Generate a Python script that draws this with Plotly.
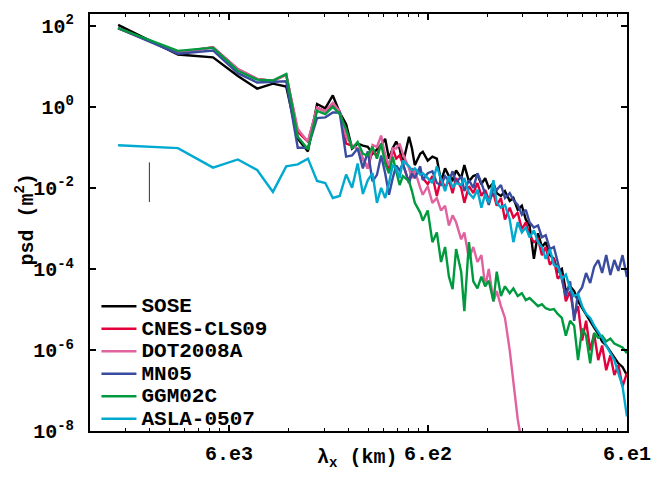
import math
import plotly.graph_objects as go

# ---------------- data ----------------
# harmonic index n of the along-track spectrum; wavelength = L1 / n
L1_KM = 22700.0
harm_low = list(range(1, 25))
harm_high = [25, 26, 27, 29, 30, 31, 33, 34, 36, 38, 40, 42, 44, 46, 48, 50, 53, 55, 58, 61,
             64, 67, 70, 73, 77, 80, 84, 88, 93, 97, 102, 107, 112, 117, 123, 129, 135, 141, 148, 155,
             162, 170, 178, 187, 196, 205, 215, 225, 236, 247, 259, 271, 284, 298, 312, 327, 343, 361]
harmonic = harm_low + harm_high

# log10(psd [m^2]) per series
sose_log = [2.02, 1.29, 1.22, 0.76, 0.45, 0.57, 0.50, -0.79, -1.10, 0.07, -0.04, 0.28, -0.14, -0.43,
            -1.03, -0.91, -0.96, -0.99, -1.16, -1.06, -0.95, -0.79, -1.28, -1.02,
            -0.86, -1.03, -1.40, -0.74, -1.03, -1.44, -1.16, -1.11, -1.33, -1.23,
            -1.28, -1.84, -1.52, -1.71, -1.81, -1.57, -1.76, -1.44, -1.84, -1.71,
            -1.67, -1.91, -1.76, -2.00, -1.88, -2.13, -2.20, -2.08, -2.32, -2.25,
            -2.54, -2.44, -2.78, -2.93, -3.75, -3.12, -3.46, -3.34, -3.66, -3.75,
            -4.07, -4.00, -4.55, -4.43, -4.55, -4.80, -4.97, -5.11, -5.31, -5.45,
            -5.60, -5.79, -5.89, -6.03, -6.18, -6.33, -6.42, -6.62]
cnes_log = [1.94, 1.34, 1.47, 0.93, 0.69, 0.64, 0.79, -0.62, -0.86, -0.02, -0.11, 0.06, -0.11, -0.91,
            -0.96, -1.03, -1.28, -1.52, -1.08, -1.20, -0.91, -1.20, -1.59, -1.03,
            -1.28, -1.20, -1.40, -1.88, -1.52, -1.64, -1.59, -1.76, -1.91, -1.71,
            -2.20, -1.76, -2.00, -1.81, -2.13, -1.76, -2.00, -2.37, -1.96, -2.13,
            -1.88, -2.20, -2.05, -2.30, -2.13, -2.44, -2.25, -2.78, -2.49, -2.73,
            -2.61, -3.02, -2.85, -3.17, -3.34, -3.27, -3.66, -3.46, -3.90, -3.75,
            -4.24, -4.14, -4.80, -4.55, -5.16, -4.92, -5.77, -5.28, -6.01, -5.60,
            -6.25, -5.89, -6.50, -6.13, -6.62, -6.37, -6.90, -6.57]
dot_log = [1.94, 1.34, 1.47, 0.93, 0.69, 0.64, 0.79, -0.55, -0.86, -0.02, -0.11, 0.10, -0.11, -0.74,
           -0.95, -1.03, -1.28, -1.52, -0.94, -0.99, -0.71, -1.20, -1.45, -1.03,
           -1.03, -0.91, -1.16, -1.52, -1.76, -1.57, -2.00, -2.17, -1.96, -2.37,
           -2.25, -2.56, -2.44, -2.93, -2.68, -2.85, -3.27, -3.10, -3.75, -3.46,
           -3.83, -3.66, -4.43, -4.00, -4.80, -4.55, -4.92, -5.21, -6.01, -6.86,
           -7.71, -8.30]
mn05_log = [1.94, 1.31, 1.39, 0.83, 0.60, 0.62, 0.63, -1.01, -1.01, -0.28, -0.26, -0.14, -0.14, -1.23,
            -1.20, -1.03, -1.52, -1.10, -1.84, -1.68, -1.20, -1.64, -2.17, -1.76,
            -1.45, -1.57, -1.40, -1.88, -1.64, -1.76, -1.47, -1.81, -1.64, -1.59,
            -1.88, -1.93, -1.71, -1.84, -1.59, -1.88, -1.71, -2.08, -1.81, -2.00,
            -1.64, -1.88, -2.13, -2.42, -2.00, -2.05, -1.93, -2.25, -2.13, -2.30,
            -2.42, -2.66, -2.54, -2.85, -2.98, -2.93, -3.22, -3.17, -3.51, -3.46,
            -3.83, -4.24, -4.67, -4.31, -5.28, -4.60, -4.45, -4.10, -4.35, -3.95,
            -3.78, -4.10, -3.66, -4.15, -3.78, -4.05, -3.66, -4.20]
ggm_log = [1.94, 1.38, 1.46, 0.89, 0.67, 0.65, 0.81, -0.74, -1.05, -0.10, -0.18, 0.00, -0.18, -0.55,
           -1.03, -0.87, -1.16, -1.20, -0.99, -1.28, -0.91, -1.40, -1.64, -1.23,
           -1.59, -1.93, -1.71, -1.84, -2.08, -2.37, -2.61, -2.81, -2.56, -3.34,
           -3.10, -3.83, -3.46, -4.19, -4.50, -3.51, -4.07, -5.04, -3.34, -4.31,
           -4.48, -4.19, -4.43, -4.29, -4.80, -4.07, -4.67, -4.43, -4.60, -4.48,
           -4.67, -4.60, -4.77, -4.72, -4.82, -4.92, -4.87, -4.97, -5.01, -4.99,
           -5.11, -5.21, -5.65, -5.28, -5.40, -6.25, -5.47, -5.65, -6.33, -5.58,
           -5.70, -5.65, -5.79, -5.72, -5.84, -5.89, -5.94, -6.08]
asla_log = [-0.95, -1.02, -1.50, -1.30, -1.56, -2.10, -1.47, -1.42, -1.28, -1.83, -1.88, -2.25, -2.20,
            -1.67, -2.00, -1.40, -2.15, -1.81, -1.64, -2.37, -2.00, -2.25, -1.88, -1.45,
            -1.52, -1.76, -1.33, -1.47, -1.57, -1.52, -1.67, -1.64, -1.76, -1.88,
            -1.47, -1.76, -2.08, -1.71, -2.00, -1.88, -1.93, -1.76, -2.13, -2.25,
            -2.05, -2.49, -2.15, -2.37, -1.81, -2.37, -2.49, -2.42, -2.78, -3.34,
            -2.85, -3.10, -2.98, -3.22, -3.05, -3.34, -3.46, -3.75, -3.51, -3.90,
            -3.95, -4.24, -4.14, -4.48, -4.67, -4.62, -4.92, -5.11, -5.21, -5.40,
            -5.55, -5.70, -5.89, -6.08, -6.25, -6.57, -6.90, -7.64]

series_names = ["SOSE", "CNES-CLS09", "DOT2008A", "MN05", "GGM02C", "ASLA-0507"]
series_logs = [sose_log, cnes_log, dot_log, mn05_log, ggm_log, asla_log]
series_colors = ["#000000", "#e4003c", "#e0629f", "#3a4ca0", "#009a3e", "#00a9d0"]

# confidence-interval bar
ci_lambda_km = [15800, 15800]
ci_log = [-1.37, -2.35]

# axis ticks
x_tick_lambda = [2 * math.pi * 1000, 2 * math.pi * 100, 2 * math.pi * 10]
x_tick_text = ["6.e3", "6.e2", "6.e1"]
y_tick_exp = [2, 0, -2, -4, -6, -8]

# ---------------- figure ----------------
fig = go.Figure()
for name, logs, col in zip(series_names, series_logs, series_colors):
    n = harmonic[:len(logs)]
    fig.add_trace(go.Scatter(
        x=[L1_KM / h for h in n], y=[10 ** v for v in logs], mode="lines",
        name='<span style="font-size:21px">' + name + "</span>",
        line=dict(color=col, width=2.4)))

fig.add_trace(go.Scatter(x=ci_lambda_km, y=[10 ** v for v in ci_log], mode="lines",
                         line=dict(color="#333333", width=1), showlegend=False, hoverinfo="skip"))

minor_vals = []
for e in (-4, -3, -2):
    for m in range(2, 10):
        k = m * 10 ** e
        if 2e-4 < k < 0.1:
            minor_vals.append(2 * math.pi / k)

tickfont = dict(family="Liberation Mono", size=20, color="black", weight="bold")

fig.update_layout(
    width=664, height=478,
    margin=dict(l=90, r=37, t=13, b=41),
    plot_bgcolor="white", paper_bgcolor="white",
    showlegend=True,
    legend=dict(x=0.012, y=0.338, xanchor="left", yanchor="top",
                bgcolor="rgba(0,0,0,0)", borderwidth=0,
                font=dict(family="Liberation Mono", size=15, color="black", weight="bold"),
                itemwidth=35, tracegroupgap=0),
    xaxis=dict(type="log",
               range=[math.log10(2 * math.pi / 2e-4), math.log10(2 * math.pi / 0.1)],
               tickmode="array", tickvals=x_tick_lambda, ticktext=x_tick_text,
               ticks="inside", ticklen=6, tickwidth=1.5, tickcolor="black",
               minor=dict(tickmode="array", tickvals=minor_vals, ticks="inside",
                          ticklen=3, tickwidth=1, tickcolor="black", showgrid=False),
               showline=True, linewidth=2, linecolor="black", mirror="ticks",
               showgrid=False, zeroline=False, tickfont=tickfont, ticklabelstandoff=3),
    yaxis=dict(type="log", range=[-8, 2.29],
               tickmode="array", tickvals=[10.0 ** e for e in y_tick_exp],
               ticktext=["10<sup>%d</sup>" % e for e in y_tick_exp],
               ticks="inside", ticklen=6, tickwidth=1.5, tickcolor="black",
               showline=True, linewidth=2, linecolor="black", mirror="ticks",
               showgrid=False, zeroline=False, tickfont=tickfont, ticklabelstandoff=10),
    annotations=[
        dict(text="λ<sub>x</sub> (km)", xref="paper", yref="paper", x=0.4963, y=-0.03,
             xanchor="center", yanchor="top", showarrow=False,
             font=dict(family="Liberation Mono", size=20, color="black", weight="bold")),
        dict(text="psd (m<sup>2</sup>)", xref="paper", yref="paper", x=-0.121, y=0.507,
             xanchor="center", yanchor="middle", textangle=-90, showarrow=False,
             font=dict(family="Liberation Mono", size=20, color="black", weight="bold")),
    ],
)

fig.write_html("out.html")
